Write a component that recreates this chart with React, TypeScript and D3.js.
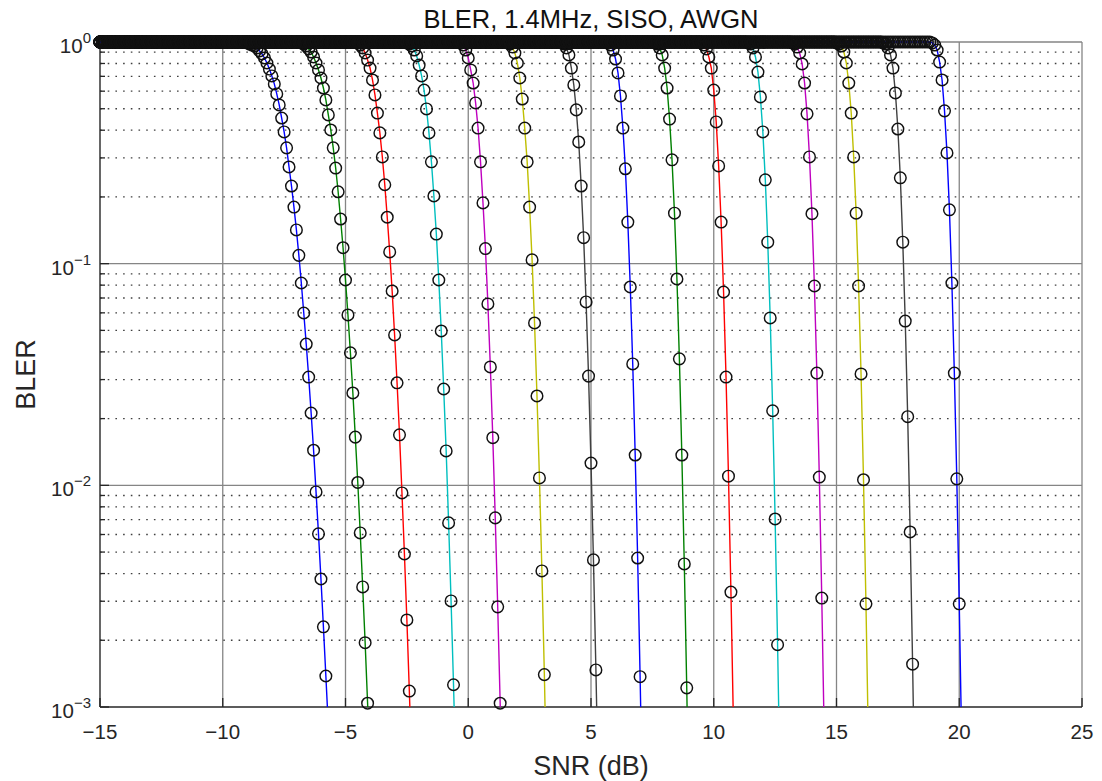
import React from 'react';
import * as d3 from 'd3';

// SNR grid used by the link simulation (dB)
const snrFirst = -15;
const snrStep = 0.1;

const xTicks = [-15, -10, -5, 0, 5, 10, 15, 20, 25];
const yDecades = [1, 0.1, 0.01, 0.001];
const yTickExponents = ['0', '\u22121', '\u22122', '\u22123'];

const lineColors = [
  '#0000ff', '#008000', '#ff0000', '#00bfbf', '#bf00bf', '#bfbf00', '#404040',
  '#0000ff', '#008000', '#ff0000', '#00bfbf', '#bf00bf', '#bfbf00', '#404040',
  '#0000ff',
];

// SNR of the first point below BLER = 1 for each CQI curve; BLER is 1 before it
const waterfallStart = [-9.0, -6.8, -4.5, -2.5, -0.3, 1.6, 3.8, 5.7, 7.6, 9.5, 11.4, 13.2, 15.0, 16.9, 18.9];

// BLER from the waterfall onwards, one value per 0.1 dB
const cqi1 = [0.99, 0.979, 0.969, 0.959, 0.94, 0.911, 0.883, 0.847, 0.804, 0.755, 0.703, 0.647, 0.583, 0.52, 0.454, 0.393, 0.333, 0.273, 0.224, 0.18, 0.142, 0.109, 0.0818, 0.0599, 0.0434, 0.0308, 0.0212, 0.0144, 0.00934, 0.00604, 0.00378, 0.0023, 0.00138, 0.00082];
const cqi2 = [0.99, 0.979, 0.959, 0.93, 0.901, 0.856, 0.804, 0.748, 0.688, 0.62, 0.548, 0.469, 0.401, 0.333, 0.27, 0.211, 0.159, 0.118, 0.0844, 0.0587, 0.0396, 0.0261, 0.0165, 0.0103, 0.0061, 0.00348, 0.00195, 0.00104, 0.00055];
const cqi3 = [0.99, 0.969, 0.94, 0.892, 0.829, 0.763, 0.674, 0.577, 0.478, 0.389, 0.303, 0.227, 0.162, 0.113, 0.0753, 0.0477, 0.029, 0.0169, 0.00924, 0.0049, 0.00247, 0.00118, 0.00054];
const cqi4 = [0.99, 0.979, 0.959, 0.92, 0.865, 0.787, 0.703, 0.607, 0.499, 0.389, 0.288, 0.202, 0.136, 0.0844, 0.0497, 0.0272, 0.0143, 0.00677, 0.00301, 0.00126, 0.00049];
const cqi5 = [0.99, 0.969, 0.92, 0.847, 0.748, 0.653, 0.531, 0.409, 0.288, 0.188, 0.117, 0.0658, 0.0342, 0.0164, 0.00713, 0.00283, 0.00104, 0.00035];
const cqi6 = [0.99, 0.979, 0.949, 0.892, 0.804, 0.688, 0.553, 0.409, 0.288, 0.18, 0.104, 0.054, 0.0253, 0.0108, 0.00411, 0.0014, 0.00042];
const cqi7 = [0.99, 0.979, 0.94, 0.874, 0.763, 0.64, 0.494, 0.354, 0.224, 0.131, 0.0672, 0.0311, 0.0126, 0.00461, 0.00147, 0.00042];
const cqi8 = [0.99, 0.969, 0.92, 0.838, 0.725, 0.571, 0.409, 0.268, 0.154, 0.0785, 0.0353, 0.0137, 0.0047, 0.00137, 0.00036];
const cqi9 = [0.99, 0.979, 0.94, 0.874, 0.763, 0.62, 0.449, 0.294, 0.169, 0.0853, 0.0372, 0.0137, 0.00442, 0.00122, 0.00029];
const cqi10 = [0.99, 0.969, 0.93, 0.856, 0.763, 0.607, 0.436, 0.276, 0.154, 0.0745, 0.0308, 0.011, 0.0033, 0.00086];
const cqi11 = [0.99, 0.979, 0.94, 0.856, 0.732, 0.565, 0.393, 0.239, 0.125, 0.0569, 0.0217, 0.00705, 0.00191, 0.00045];
const cqi12 = [0.99, 0.979, 0.949, 0.892, 0.796, 0.653, 0.474, 0.303, 0.168, 0.0793, 0.0321, 0.0109, 0.0031, 0.00075];
const cqi13 = [0.99, 0.979, 0.959, 0.901, 0.804, 0.653, 0.478, 0.303, 0.169, 0.0793, 0.0318, 0.0106, 0.00292, 0.00068];
const cqi14 = [0.99, 0.979, 0.94, 0.874, 0.763, 0.589, 0.405, 0.244, 0.125, 0.0551, 0.0204, 0.00616, 0.00156, 0.00034];
const cqi15 = [0.99, 0.969, 0.92, 0.812, 0.674, 0.489, 0.316, 0.175, 0.0818, 0.0321, 0.0107, 0.00292, 0.00068];

const waterfalls = [cqi1, cqi2, cqi3, cqi4, cqi5, cqi6, cqi7, cqi8, cqi9, cqi10, cqi11, cqi12, cqi13, cqi14, cqi15];

const W = 1102;
const H = 781;
const L = 100;
const R = 1082;
const T = 42;
const B = 707;
const FONT = "'Liberation Sans', Arial, Helvetica, sans-serif";
const AX = '#262626';

type Pt = { snr: number; bler: number };

export default function App() {
  const x = d3.scaleLinear().domain([-15, 25]).range([L, R]);
  const y = d3.scaleLog().domain([1e-3, 1]).range([B, T]);

  const series: Pt[][] = waterfalls.map((w, i) => {
    const startIdx = Math.round((waterfallStart[i] - snrFirst) / snrStep);
    const pts: Pt[] = [];
    for (let k = 0; k < startIdx; k++) pts.push({ snr: (snrFirst * 10 + k) / 10, bler: 1 });
    w.forEach((b, j) => pts.push({ snr: (snrFirst * 10 + startIdx + j) / 10, bler: b }));
    return pts;
  });

  const line = d3
    .line<Pt>()
    .x((d) => x(d.snr))
    .y((d) => y(d.bler));

  const minorValues: number[] = [];
  [0.001, 0.01, 0.1].forEach((d) => {
    for (let m = 2; m <= 9; m++) minorValues.push(d * m);
  });

  return (
    <svg
      width={W}
      height={H}
      style={{ position: 'absolute', left: 0, top: 0, background: '#fff' }}
      fontFamily={FONT}
    >
      <defs>
        <clipPath id="plotClip">
          <rect x={L} y={T - 1} width={R - L} height={B - T + 1} />
        </clipPath>
      </defs>
      <rect x={0} y={0} width={W} height={H} fill="#fff" />

      {/* minor horizontal grid */}
      {minorValues.map((v, i) => (
        <line
          key={'mg' + i}
          x1={L}
          x2={R}
          y1={y(v)}
          y2={y(v)}
          stroke="#404040"
          strokeWidth={1.3}
          strokeDasharray="1.6 6.1"
        />
      ))}
      {/* major grid */}
      {xTicks.slice(1, -1).map((t) => (
        <line key={'gx' + t} x1={x(t)} x2={x(t)} y1={T} y2={B} stroke="#858585" strokeWidth={1.3} />
      ))}
      {yDecades.slice(1, -1).map((v) => (
        <line key={'gy' + v} x1={L} x2={R} y1={y(v)} y2={y(v)} stroke="#858585" strokeWidth={1.3} />
      ))}

      {/* box */}
      <line x1={L} x2={R} y1={T} y2={T} stroke="#858585" strokeWidth={1.3} />
      <line x1={R} x2={R} y1={T} y2={B} stroke="#858585" strokeWidth={1.3} />
      <line x1={L} x2={R} y1={B} y2={B} stroke={AX} strokeWidth={1.4} />
      <line x1={L} x2={L} y1={T} y2={B} stroke={AX} strokeWidth={1.4} />

      {/* ticks */}
      {xTicks.map((t) => (
        <line key={'tx' + t} x1={x(t)} x2={x(t)} y1={B} y2={B - 9} stroke={AX} strokeWidth={1.3} />
      ))}
      {yDecades.map((v) => (
        <line key={'ty' + v} x1={L} x2={L + 9} y1={y(v)} y2={y(v)} stroke={AX} strokeWidth={1.3} />
      ))}
      {minorValues.map((v, i) => (
        <line key={'tm' + i} x1={L} x2={L + 5} y1={y(v)} y2={y(v)} stroke={AX} strokeWidth={1.3} />
      ))}

      {/* curves */}
      <g clipPath="url(#plotClip)">
        {series.map((s, i) => (
          <path key={'ln' + i} d={line(s) || ''} fill="none" stroke={lineColors[i]} strokeWidth={1.4} />
        ))}
      </g>
      {series.map((s, i) => (
        <g key={'mk' + i}>
          {s
            .filter((d) => d.bler >= 1e-3 && d.bler <= 1)
            .map((d, j) => (
              <circle key={j} cx={x(d.snr)} cy={y(d.bler)} r={5.8} fill="none" stroke="#111" strokeWidth={1.45} />
            ))}
        </g>
      ))}

      {/* tick labels */}
      {xTicks.map((t) => (
        <text key={'lx' + t} x={x(t)} y={739} textAnchor="middle" fontSize={20.5} fill={AX}>
          {t < 0 ? '\u2212' + Math.abs(t) : String(t)}
        </text>
      ))}
      {yDecades.map((v, i) => (
        <text key={'ly' + v} x={91} y={y(v) + 11} textAnchor="end" fontSize={20.5} fill={AX}>
          10
          <tspan dy={-10} fontSize={15}>
            {yTickExponents[i]}
          </tspan>
        </text>
      ))}

      {/* titles */}
      <text x={(L + R) / 2} y={28} textAnchor="middle" fontSize={25.5} fill="#111">
        BLER, 1.4MHz, SISO, AWGN
      </text>
      <text x={(L + R) / 2} y={775} textAnchor="middle" fontSize={27} fill={AX}>
        SNR (dB)
      </text>
      <text
        transform={`translate(35, ${(T + B) / 2}) rotate(-90)`}
        textAnchor="middle"
        fontSize={27}
        fill={AX}
      >
        BLER
      </text>
    </svg>
  );
}
